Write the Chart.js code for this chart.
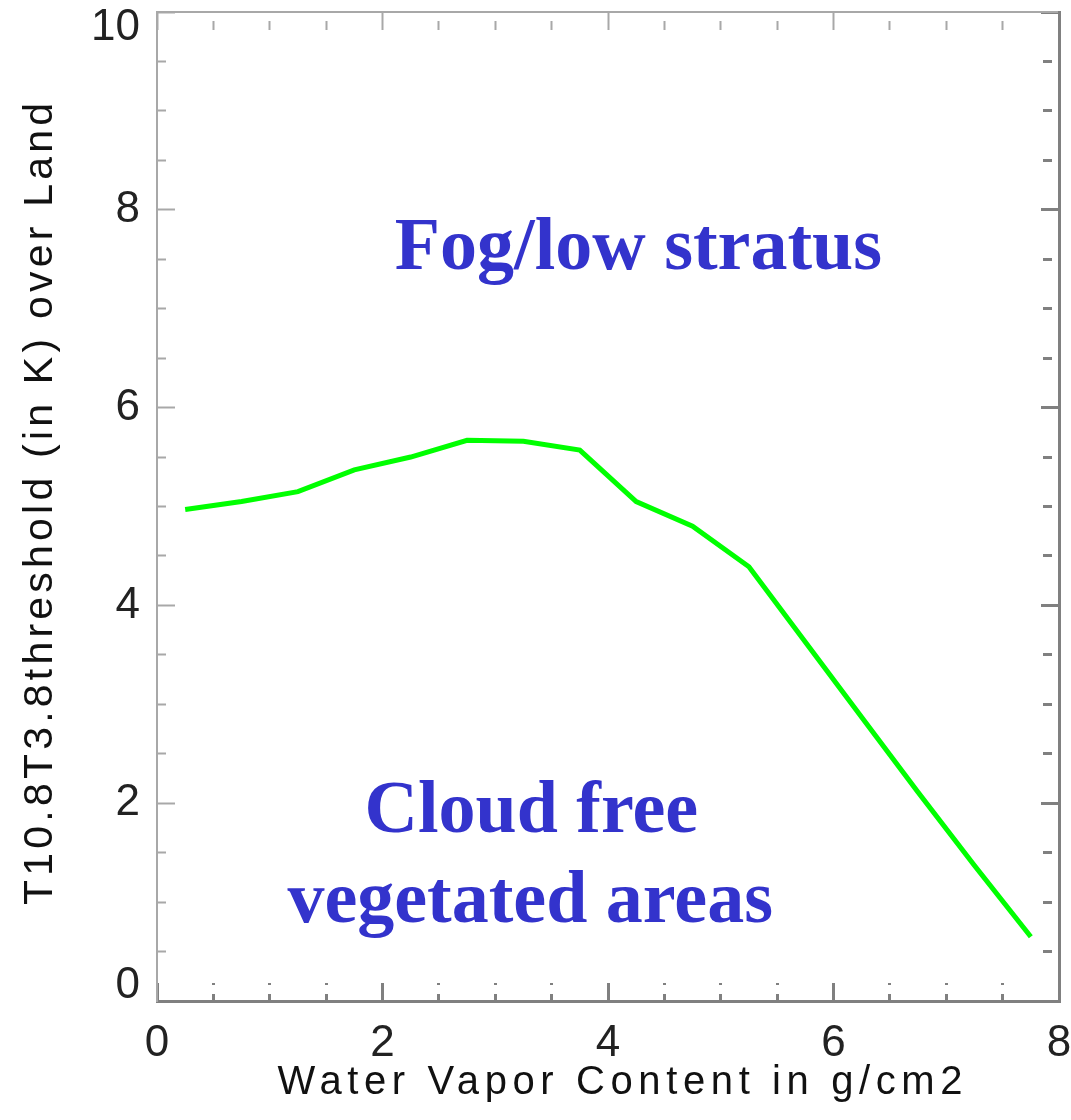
<!DOCTYPE html>
<html>
<head>
<meta charset="utf-8">
<script src="https://cdn.jsdelivr.net/npm/chart.js@4/dist/chart.umd.min.js"></script>
<style>
    html, body { margin: 0; padding: 0; background: #fff; }
    canvas { display: block; }
</style>
</head>
<body>
<canvas id="chart" width="1071" height="1120"></canvas>
<script>
// water vapour content (g/cm2) and threshold (K)
const vaporContent = [0.25, 0.75, 1.25, 1.75, 2.25, 2.75, 3.25, 3.75, 4.25, 4.75, 5.25, 5.75, 6.25, 6.75, 7.25, 7.75];
const thresholdK = [4.97, 5.05, 5.15, 5.37, 5.50, 5.67, 5.66, 5.57, 5.05, 4.80, 4.39, 3.63, 2.87, 2.11, 1.37, 0.65];
const xTickLabels = ['0', '2', '4', '6', '8'];
const yTickLabels = ['0', '2', '4', '6', '8', '10'];

const xTitle = 'Water Vapor Content in g/cm2';
const yTitle = 'T10.8T3.8threshold (in K) over Land';
const regionLabels = ['Fog/low stratus', 'Cloud free', 'vegetated areas'];

const tickFont = { family: '"Liberation Sans", Arial, sans-serif', size: 44, lineHeight: 0.7 };
const isMajor = v => Math.abs(v % 2) < 1e-9;

// inward tick marks; minor ones are cut to half length with a dash
function tickGrid(color, width, gapFirst) {
    return {
        drawOnChartArea: false,
        drawTicks: true,
        tickLength: -18,
        tickColor: color,
        tickWidth: width,
        tickBorderDash: c => (c.tick && isMajor(c.tick.value)) ? [] : [9, 9],
        tickBorderDashOffset: c => (c.tick && isMajor(c.tick.value)) ? 0 : (gapFirst ? 9 : 0)
    };
}

// fixed axis box sizes, no extra room for overhanging end labels
function fixBox(w, h) {
    return s => {
        if (w !== null) s.width = w;
        if (h !== null) s.height = h;
        s.paddingLeft = s.paddingRight = s.paddingTop = s.paddingBottom = 0;
    };
}

const regionText = {
    id: 'regionText',
    afterDatasetsDraw(chart) {
        const { ctx, scales: { x, y } } = chart;
        ctx.save();
        ctx.fillStyle = '#3333cc';
        ctx.font = 'bold 74px "Liberation Serif", "Times New Roman", serif';
        ctx.textAlign = 'center';
        ctx.textBaseline = 'alphabetic';
        ctx.fillText(regionLabels[0], x.getPixelForValue(4.27), y.getPixelForValue(7.40));
        ctx.fillText(regionLabels[1], x.getPixelForValue(3.32), y.getPixelForValue(1.71));
        ctx.fillText(regionLabels[2], x.getPixelForValue(3.31), y.getPixelForValue(0.80));
        ctx.restore();
    }
};

// axis titles, spaced out to the plot's wide lettering
function spacedText(ctx, text, cx, cy, width, angle) {
    ctx.save();
    ctx.translate(cx, cy);
    ctx.rotate(angle);
    const plain = ctx.measureText(text).width;
    if ('letterSpacing' in ctx) {
        ctx.letterSpacing = ((width - plain) / (text.length - 1)) + 'px';
        ctx.textAlign = 'left';
        ctx.fillText(text, -width / 2, 0);
    } else {
        ctx.scale(width / plain, 1);
        ctx.textAlign = 'center';
        ctx.fillText(text, 0, 0);
    }
    ctx.restore();
}

const axisTitles = {
    id: 'axisTitles',
    afterDraw(chart) {
        const ctx = chart.ctx;
        ctx.save();
        ctx.fillStyle = '#111';
        ctx.font = '40px "Liberation Sans", Arial, sans-serif';
        ctx.textBaseline = 'alphabetic';
        spacedText(ctx, xTitle, 620, 1094, 685, 0);
        ctx.font = '41px "Liberation Sans", Arial, sans-serif';
        spacedText(ctx, yTitle, 52, 504, 802, -Math.PI / 2);
        ctx.restore();
    }
};

new Chart(document.getElementById('chart'), {
    type: 'line',
    data: {
        datasets: [{
            data: vaporContent.map((v, i) => ({ x: v, y: thresholdK[i] })),
            borderColor: '#00ff00',
            borderWidth: 5,
            pointRadius: 0,
            tension: 0,
            fill: false,
            xAxisID: 'x',
            yAxisID: 'y'
        }]
    },
    options: {
        responsive: false,
        animation: false,
        layout: { padding: { top: 12, right: 12, left: 0, bottom: 0 } },
        plugins: { legend: { display: false }, tooltip: { enabled: false } },
        scales: {
            x: {
                type: 'linear', position: 'bottom', min: 0, max: 8, weight: 1,
                afterFit: fixBox(null, 119),
                ticks: {
                    stepSize: 0.5, autoSkip: false, maxRotation: 0, padding: 45,
                    color: '#222', font: tickFont,
                    callback: v => isMajor(v) ? xTickLabels[v / 2] : ''
                },
                grid: tickGrid('#808080', 3, false),
                border: { color: '#808080', width: 3 }
            },
            x2: {
                type: 'linear', position: 'top', min: 0, max: 8,
                afterFit: fixBox(null, 0),
                ticks: { display: false, stepSize: 0.5, autoSkip: false },
                grid: tickGrid('#a8a8a8', 2, false),
                border: { color: '#a8a8a8', width: 2 }
            },
            y: {
                type: 'linear', position: 'left', min: 0, max: 10, weight: 1,
                afterFit: fixBox(157, null),
                ticks: {
                    stepSize: 0.5, autoSkip: false, padding: 35,
                    color: '#222', font: tickFont,
                    callback: v => {
                        if (!isMajor(v)) return '';
                        const label = yTickLabels[v / 2];
                        if (v === 0) return [label, ''];
                        if (v === 10) return ['', label];
                        return label;
                    }
                },
                grid: tickGrid('#a8a8a8', 2, true),
                border: { color: '#a8a8a8', width: 2 }
            },
            y2: {
                type: 'linear', position: 'right', min: 0, max: 10,
                afterFit: fixBox(0, null),
                ticks: { display: false, stepSize: 0.5, autoSkip: false },
                grid: tickGrid('#808080', 3, true),
                border: { color: '#808080', width: 3 }
            }
        }
    },
    plugins: [regionText, axisTitles]
});
</script>
</body>
</html>
